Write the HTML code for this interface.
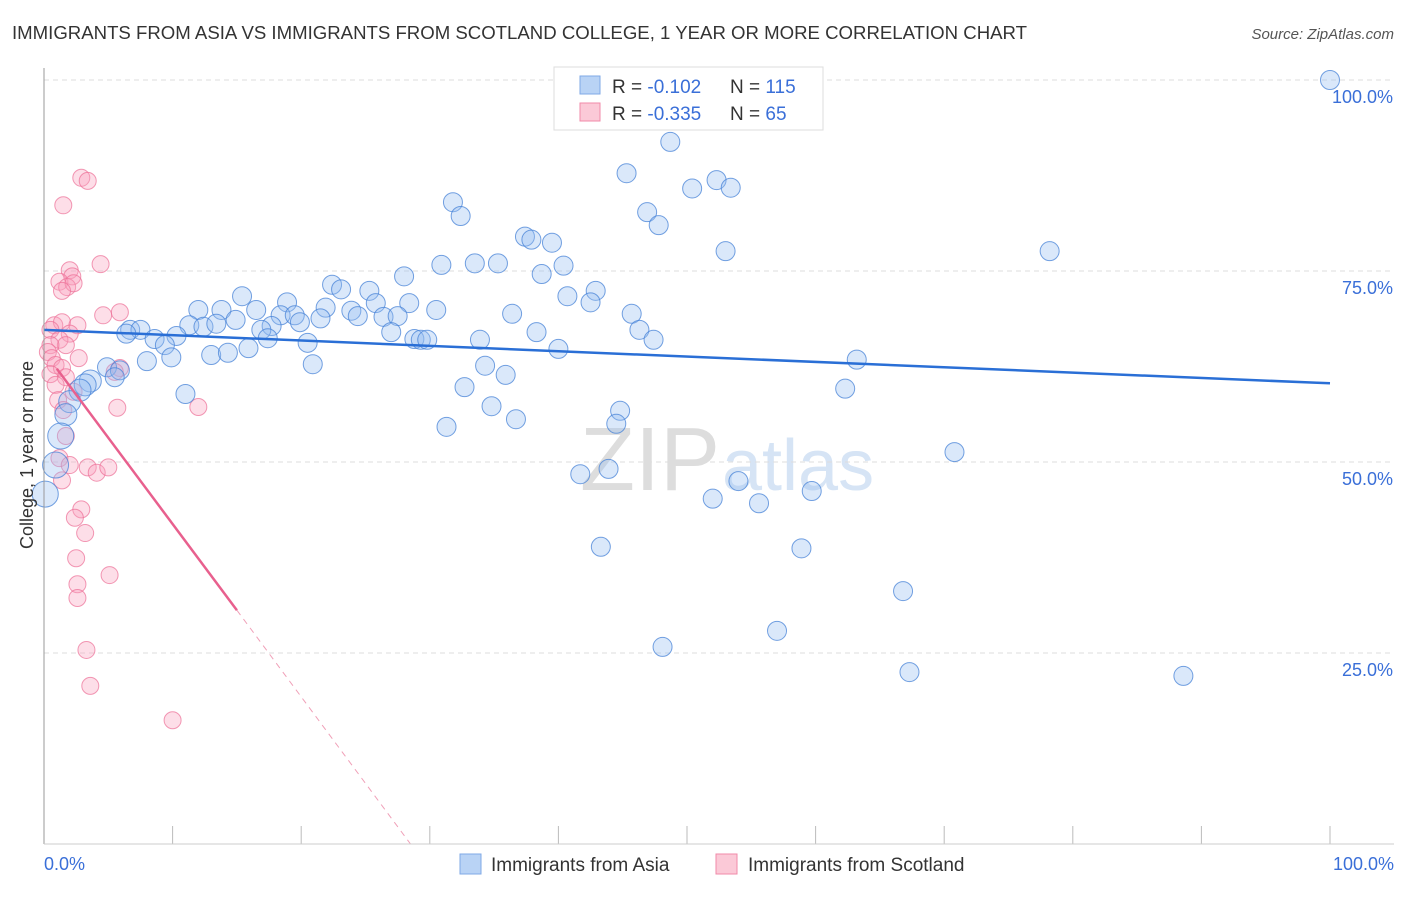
<!DOCTYPE html>
<html><head><meta charset="utf-8"><style>
body{margin:0;background:#fff;font-family:"Liberation Sans",sans-serif}
svg text{font-family:"Liberation Sans",sans-serif}
</style></head><body>
<svg id="c" width="1406" height="892">
<text x="12" y="39" font-size="18" fill="#333" textLength="1015" lengthAdjust="spacingAndGlyphs">IMMIGRANTS FROM ASIA VS IMMIGRANTS FROM SCOTLAND COLLEGE, 1 YEAR OR MORE CORRELATION CHART</text>
<text x="1394" y="39" font-size="15" fill="#555" font-style="italic" text-anchor="end">Source: ZipAtlas.com</text>
<text x="720" y="490" font-size="90" fill="#ddd" text-anchor="end" font-family="Liberation Serif">ZIP</text>
<text x="722" y="490" font-size="72" fill="#d6e4f5">atlas</text>
<g id="grid"></g><g id="pts"></g><g id="lines"></g>
<line x1="44" y1="68" x2="44" y2="844" stroke="#999"/>
<line x1="44" y1="844" x2="1394" y2="844" stroke="#ccc"/>
<text x="33" y="455" font-size="18" fill="#333" text-anchor="middle" transform="rotate(-90 33 455)">College, 1 year or more</text>
<text x="44" y="870" font-size="18" fill="#3a6fd8">0.0%</text>
<text x="1394" y="870" font-size="18" fill="#3a6fd8" text-anchor="end">100.0%</text>
<g>
<rect x="554" y="67" width="269" height="63" fill="#fff" stroke="#ddd"/>
<rect x="580" y="76" width="20" height="18" fill="#b9d3f5" stroke="#7fa8e6"/>
<rect x="580" y="103" width="20" height="18" fill="#fbc9d7" stroke="#f08aa8"/>
<text x="612" y="93" font-size="19" fill="#333">R = <tspan fill="#3a6fd8">-0.102</tspan></text>
<text x="730" y="93" font-size="19" fill="#333">N = <tspan fill="#3a6fd8">115</tspan></text>
<text x="612" y="120" font-size="19" fill="#333">R = <tspan fill="#3a6fd8">-0.335</tspan></text>
<text x="730" y="120" font-size="19" fill="#333">N = <tspan fill="#3a6fd8"> 65</tspan></text>
</g>
<g>
<rect x="460" y="854" width="21" height="20" fill="#b9d3f5" stroke="#7fa8e6"/>
<text x="491" y="871" font-size="19" fill="#333">Immigrants from Asia</text>
<rect x="716" y="854" width="21" height="20" fill="#fbc9d7" stroke="#f08aa8"/>
<text x="748" y="871" font-size="19" fill="#333">Immigrants from Scotland</text>
</g>
</svg>
<script>
const yTicks=[25,50,75,100];
const yTickLabels=["25.0%","50.0%","75.0%","100.0%"];
const xTicks=[0,10,20,30,40,50,60,70,80,90,100];
const asiaX=[100,48.7,45.3,52.3,50.4,53.4,31.8,32.4,46.9,47.8,37.4,37.9,39.5,53.0,78.2,30.9,33.5,35.3,40.4,38.7,28.0,15.4,22.4,23.1,25.3,42.9,40.7,42.5,18.9,25.8,28.4,12.0,16.5,21.9,23.9,30.5,13.8,18.4,19.5,24.4,26.4,27.5,36.4,45.7,14.9,21.5,11.3,12.4,13.4,17.7,19.9,16.9,6.7,7.5,6.4,17.4,27.0,38.3,46.3,10.3,8.6,9.4,20.5,28.8,29.3,29.8,33.9,47.4,15.9,40.0,13.0,14.3,9.9,8.0,20.9,63.2,4.9,5.9,34.3,35.9,5.5,3.6,3.2,32.7,62.3,2.8,11.0,2.0,34.8,44.8,1.7,36.7,44.5,31.3,1.3,70.8,0.9,43.9,41.7,54.0,59.7,52.0,55.6,0.1,43.3,58.9,66.8,57.0,48.1,67.3,88.6];
const asiaY=[100,91.9,87.8,86.9,85.8,85.9,84.0,82.2,82.7,81.0,79.5,79.1,78.7,77.6,77.6,75.8,76.0,76.0,75.7,74.6,74.3,71.7,73.2,72.6,72.4,72.4,71.7,70.9,70.9,70.8,70.8,69.9,69.9,70.2,69.8,69.9,69.9,69.2,69.2,69.1,69.0,69.1,69.4,69.4,68.6,68.8,67.9,67.7,68.1,67.8,68.3,67.3,67.3,67.3,66.8,66.2,67.0,67.0,67.3,66.5,66.1,65.3,65.6,66.1,66.0,66.0,66.0,66.0,64.9,64.8,64.0,64.3,63.7,63.2,62.8,63.4,62.4,62.0,62.6,61.4,61.1,60.6,60.1,59.8,59.6,59.4,58.9,57.9,57.3,56.7,56.2,55.6,55.0,54.6,53.4,51.3,49.6,49.1,48.4,47.5,46.2,45.2,44.6,45.8,38.9,38.7,33.1,27.9,25.8,22.5,22.0];
const scotX=[2.9,3.4,1.5,4.4,2.0,2.2,1.2,1.8,2.3,1.4,5.9,4.6,0.8,1.4,2.6,0.5,2.0,1.2,1.7,0.5,0.3,0.6,2.7,0.9,1.4,0.5,1.7,0.9,5.9,5.5,2.3,1.1,1.5,5.7,12.0,1.7,1.2,3.4,4.1,5.0,2.0,1.4,2.9,2.4,3.2,2.5,2.6,5.1,2.6,3.3,3.6,10.0];
const scotY=[87.2,86.8,83.6,75.9,75.1,74.3,73.6,72.9,73.4,72.4,69.6,69.2,67.9,68.3,67.9,67.3,66.8,66.0,65.3,65.3,64.4,63.6,63.6,62.7,62.3,61.5,61.1,60.1,62.3,61.8,59.2,58.1,56.8,57.1,57.2,53.4,50.5,49.3,48.6,49.3,49.6,47.6,43.8,42.7,40.7,37.4,34.0,35.2,32.2,25.4,20.7,16.2];
const asiaTrend=[[0,67.3],[100,60.3]];
const scotTrend=[[1,62.2],[15,30.6]];
const scotDash=[[15,30.6],[28.5,0]];
const X=v=>44+v*12.86, Y=v=>844-v*7.64;
const NS="http://www.w3.org/2000/svg";
function mk(t,a,p){const e=document.createElementNS(NS,t);for(const k in a)e.setAttribute(k,a[k]);p.appendChild(e);return e;}
const grid=document.getElementById('grid'),pts=document.getElementById('pts'),lines=document.getElementById('lines'),svg=document.getElementById('c');
yTicks.forEach((t,i)=>{
 const l=mk('line',{x1:44,x2:1394,y1:Y(t),y2:Y(t),stroke:'#ddd','stroke-dasharray':'5,4'},grid);
 
 
 const tx=mk('text',{x:1393,y:Y(t)+23,'font-size':18,fill:'#3a6fd8','text-anchor':'end'},svg);
 tx.textContent=yTickLabels[i];
 
 
});
xTicks.forEach(t=>{
 const l=mk('line',{x1:X(t),x2:X(t),y1:826,y2:844,stroke:'#bbb'},grid);
 
 
});
scotX.forEach((v,i)=>{
 const c=mk('circle',{cx:X(v),cy:Y(scotY[i]),r:8.5,fill:'rgba(248,160,188,0.35)',stroke:'rgba(236,110,150,0.7)','stroke-width':1},pts);
 
 
});
asiaX.forEach((v,i)=>{
 const r=v<1.5?13:(v<4?11:9.5);
 const c=mk('circle',{cx:X(v),cy:Y(asiaY[i]),r:r,fill:'rgba(150,190,240,0.35)',stroke:'rgba(70,130,215,0.75)','stroke-width':1},pts);
 
 
});
const a=mk('line',{x1:X(asiaTrend[0][0]),y1:Y(asiaTrend[0][1]),x2:X(asiaTrend[1][0]),y2:Y(asiaTrend[1][1]),stroke:'#2a6fd6','stroke-width':2.5},lines);


const s=mk('line',{x1:X(scotTrend[0][0]),y1:Y(scotTrend[0][1]),x2:X(scotTrend[1][0]),y2:Y(scotTrend[1][1]),stroke:'#e8608e','stroke-width':2.5},lines);


const d=mk('line',{x1:X(scotDash[0][0]),y1:Y(scotDash[0][1]),x2:X(scotDash[1][0]),y2:Y(scotDash[1][1]),stroke:'#f0a0b8','stroke-width':1,'stroke-dasharray':'6,5'},lines);


</script>
</body></html>
